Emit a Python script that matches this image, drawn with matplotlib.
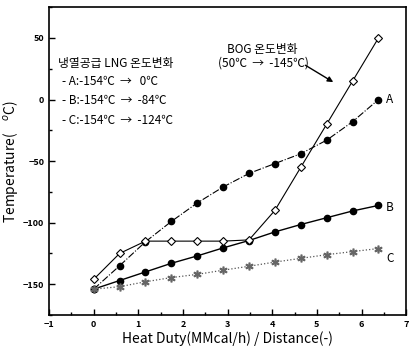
import numpy as np
import matplotlib
matplotlib.use('Agg')
from matplotlib import pyplot as plt
from matplotlib.ticker import MultipleLocator

plt.rcParams['font.family'] = ['Noto Sans CJK KR', 'DejaVu Sans']

# 데이터
x = [0, 0.58, 1.16, 1.74, 2.32, 2.90, 3.48, 4.06, 4.64, 5.22, 5.80, 6.38]
bog = [-146, -125, -115, -115, -115, -115, -114, -90, -55, -20, 15, 50]
lng_a = [-154, -135, -115.5, -99, -84, -71, -60, -52, -44, -33, -18, 0]
lng_b = [-154, -147, -140, -133, -127, -120.5, -114.5, -107.5, -101.5, -96, -90.5, -86]
lng_c = [-154, -152, -148, -144.6, -142, -138.6, -135.4, -132, -129, -126, -123.5, -121]

fig = plt.figure(figsize=(4.09, 3.60), dpi=100)
ax = fig.add_axes([0.12, 0.125, 0.873, 0.855])

ax.plot(x, bog, '-', color='black', lw=0.8, marker='D', ms=4,
        mfc='white', mec='black', mew=0.8, zorder=3)
ax.plot(x, lng_a, '-.', color='black', lw=0.8, marker='o', ms=4.5,
        mfc='black', mec='black', zorder=2)
ax.plot(x, lng_b, '-', color='black', lw=1.0, marker='o', ms=4.5,
        mfc='black', mec='black', zorder=2)
ax.plot(x, lng_c, ':', color='#555555', lw=0.9, marker='$*$', ms=5,
        mfc='#888888', mec='#666666', zorder=2)

ax.set_xlim(-1, 7)
ax.set_ylim(-175, 75)
ax.xaxis.set_major_locator(MultipleLocator(1))
ax.xaxis.set_minor_locator(MultipleLocator(0.5))
ax.yaxis.set_major_locator(MultipleLocator(50))
ax.yaxis.set_minor_locator(MultipleLocator(25))
ax.tick_params(which='both', direction='in', labelsize=6.5, width=1)
ax.tick_params(which='major', length=4)
ax.tick_params(which='minor', length=2)
for lab in ax.get_xticklabels() + ax.get_yticklabels():
    lab.set_fontweight('bold')
for s in ax.spines.values():
    s.set_linewidth(1.2)

ax.set_xlabel('Heat Duty(MMcal/h) / Distance(-)', fontsize=10, labelpad=2)
ax.set_ylabel('Temperature(    $^{o}$C)', fontsize=10, labelpad=2)

# 주석
fs = 8.5
ax.text(-0.8, 29, '냉열공급 LNG 온도변화', fontsize=fs, va='center')
ax.text(-0.7, 15, '- A:-154\u2103  \u2192   0\u2103', fontsize=fs, va='center')
ax.text(-0.7, -1, '- B:-154\u2103  \u2192  -84\u2103', fontsize=fs, va='center')
ax.text(-0.7, -17, '- C:-154\u2103  \u2192  -124\u2103', fontsize=fs, va='center')
ax.text(2.98, 41, 'BOG 온도변화', fontsize=fs, va='center')
ax.text(2.78, 30, '(50\u2103  \u2192  -145\u2103)', fontsize=fs, va='center')
ax.annotate('', xy=(5.42, 13), xytext=(4.69, 29),
            arrowprops=dict(arrowstyle='-|>', color='black', lw=1.0,
                            mutation_scale=8))
ax.text(6.55, 0, 'A', fontsize=8.5, va='center')
ax.text(6.55, -88, 'B', fontsize=8.5, va='center')
ax.text(6.55, -129, 'C', fontsize=8.5, va='center')

fig.savefig('out.png', dpi=100)
